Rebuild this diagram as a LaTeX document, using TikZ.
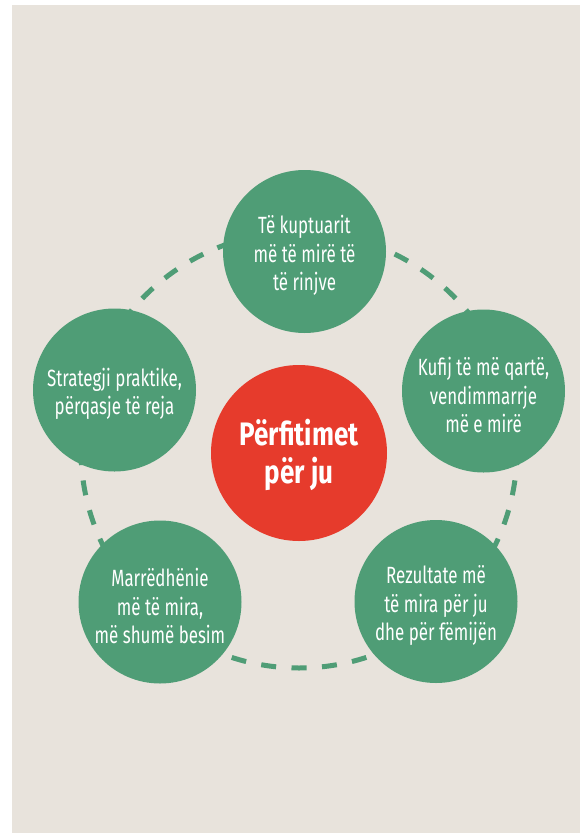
\documentclass[tikz,border=0pt]{standalone}
\usepackage{fontspec}
\setmainfont[FakeStretch=0.72]{Fira Sans}
\newfontfamily\hubfont[FakeStretch=0.8]{Fira Sans}
\definecolor{bg}{HTML}{E8E3DC}
\definecolor{grn}{HTML}{4F9D76}
\definecolor{rd}{HTML}{E63B2C}
\begin{document}
\begin{tikzpicture}[x=1pt,y=-1pt,
 bubble/.style={circle, fill=grn, minimum size=163pt, inner sep=0pt},
 btext/.style={text=white, align=center, inner sep=0pt, font=\fontsize{23.5}{28.3}\selectfont},
 hub/.style={circle, fill=rd, minimum size=176pt, inner sep=0pt},
 htext/.style={text=white, align=center, inner sep=0pt, font=\hubfont\fontsize{32.5}{38}\selectfont\bfseries},
 ring/.style={draw=grn, line width=5pt, dash pattern=on 15pt off 15.44pt, dash phase=7.5pt}]
\useasboundingbox (0,0) rectangle (580,833);
\fill[white] (0,0) rectangle (580,833);
\fill[bg] (12,5) rectangle (580,833);
\coordinate (c) at (299,450);
\draw[ring] (c) ++(0,218) arc[start angle=90, end angle=450, radius=218];
\node[hub] (hub) at (299,453) {};
\node[htext] (hubt) at ([yshift=-2pt]hub.center) {Përfitimet\\për ju};
\node[bubble] (top) at (304.5,251.5) {};
\node[btext] (topt) at ([yshift=-4pt]top.center) {Të kuptuarit\\më të mirë të\\të rinjve};
\node[bubble] (right) at (483.5,391) {};
\node[btext] (rightt) at ([yshift=-4pt]right.center) {Kufij të më qartë,\\vendimmarrje\\më e mirë};
\node[bubble] (br) at (436,601.5) {};
\node[btext] (brt) at ([yshift=-4pt]br.center) {Rezultate më\\të mira për ju\\dhe për fëmijën};
\node[bubble] (bl) at (160,602) {};
\node[btext] (blt) at ([yshift=-4pt]bl.center) {Marrëdhënie\\më të mira,\\më shumë besim};
\node[bubble] (left) at (114.5,390) {};
\node[btext] (leftt) at ([yshift=-4pt]left.center) {Strategji praktike,\\përqasje të reja};
\end{tikzpicture}
\end{document}
